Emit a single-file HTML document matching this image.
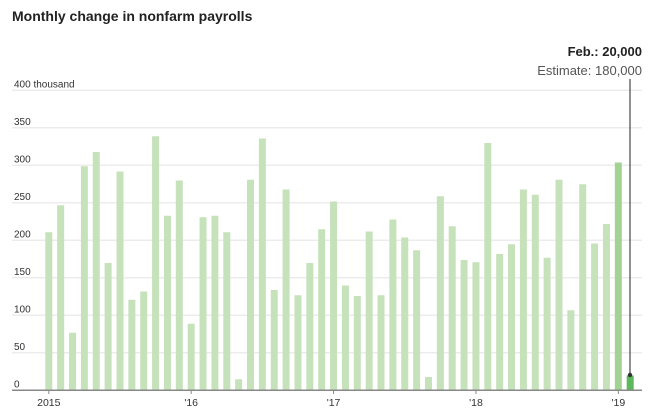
<!DOCTYPE html>
<html><head><meta charset="utf-8"><style>
body{margin:0;background:#fff;width:650px;height:413px;overflow:hidden}
svg{display:block;font-family:"Liberation Sans",sans-serif}
</style></head><body>
<svg id="c" width="650" height="413" xmlns="http://www.w3.org/2000/svg">
<text x="12" y="21" font-size="14" font-weight="bold" fill="#222">Monthly change in nonfarm payrolls</text>
<text x="642" y="56" font-size="13" font-weight="bold" fill="#222" text-anchor="end">Feb.: 20,000</text>
<text x="642" y="75" font-size="13" fill="#555" text-anchor="end">Estimate: 180,000</text>
<g id="g"></g>
</svg>
<script>
var g=document.getElementById('g'),s='';
var y0=390.5,k=0.75;
for(var v=0;v<=400;v+=50){var y=y0-v*k;
 if(v>0)s+='<rect x="12" y="'+(y-1)+'" width="630" height="1.5" fill="#ececec"/>';
 s+='<text x="14" y="'+(y-3)+'" font-size="10" fill="#333">'+(v==400?'400 thousand':v)+'</text>';}
var d=[211,247,77,299,318,170,292,121,132,339,233,280,89,231,233,211,15,281,336,134,268,127,170,215,252,140,126,212,127,228,204,187,18,259,219,174,171,330,182,195,268,261,177,281,107,275,196,222,304,20];
for(var i=0;i<d.length;i++){var x=45.3+11.865*i,h=d[i]*k;
 var c=i==49?'#5cb85c':(i==48?'#a3d392':'#c6e2bb');
 s+='<rect x="'+x+'" y="'+(y0-h)+'" width="7" height="'+h+'" fill="'+c+'"/>';}
s+='<rect x="12" y="389.5" width="630" height="1.5" fill="#888"/>';
var L=[['2015',0],["'16",12],["'17",24],["'18",36],["'19",48]];
L.forEach(function(l){var x=45.3+11.865*l[1]+3.5;
 s+='<rect x="'+(x-0.5)+'" y="391" width="1" height="3" fill="#888"/>';
 s+='<text x="'+x+'" y="406" font-size="10.5" fill="#333" text-anchor="middle">'+l[0]+'</text>';});
s+='<line x1="630" y1="79" x2="630" y2="375" stroke="#222" stroke-width="1"/>';
s+='<circle cx="630" cy="375" r="2.2" fill="#333"/>';
g.innerHTML=s;
</script>
</body></html>
